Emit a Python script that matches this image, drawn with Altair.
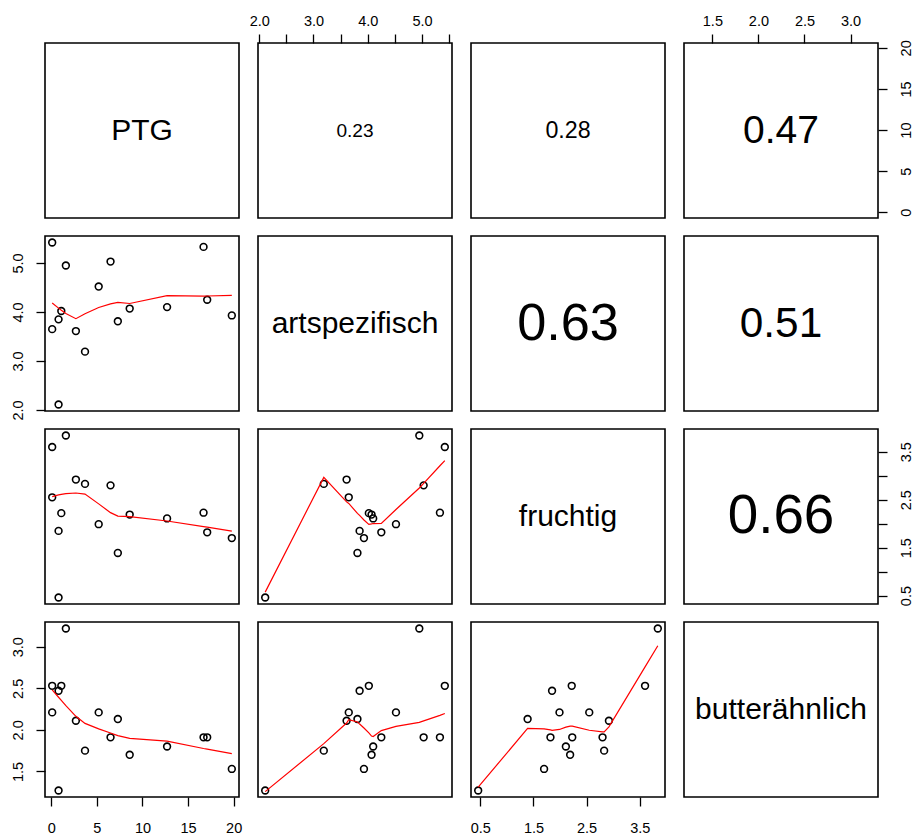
import altair as alt
import pandas as pd

# Sensory panel data: one row per sample
ptg = [0.1, 0.1, 0.8, 0.8, 1.1, 1.6, 2.7, 3.7, 5.2, 6.5, 7.3, 8.6, 12.7, 16.7, 17.1, 19.8]
art = [5.42, 3.65, 3.85, 2.11, 4.02, 4.95, 3.61, 3.19, 4.52, 5.03, 3.81, 4.07, 4.10, 5.33, 4.25, 3.93]
fru = [3.60, 2.55, 1.85, 0.46, 2.22, 3.84, 2.92, 2.83, 1.99, 2.80, 1.39, 2.19, 2.11, 2.23, 1.82, 1.70]
but = [2.53, 2.21, 2.47, 1.27, 2.53, 3.22, 2.11, 1.75, 2.21, 1.91, 2.13, 1.70, 1.80, 1.91, 1.91, 1.53]

keys = ["PTG", "art", "fru", "but"]
names = ["PTG", "artspezifisch", "fruchtig", "butterähnlich"]

# absolute correlations shown in the upper panels
cor_pairs = [(0, 1), (0, 2), (0, 3), (1, 2), (1, 3), (2, 3)]
cor_values = [0.23, 0.28, 0.47, 0.63, 0.51, 0.66]

# tick positions and which of them carry a label
tick_values = {
    "PTG": [0, 5, 10, 15, 20],
    "art": [2.0, 2.5, 3.0, 3.5, 4.0, 4.5, 5.0, 5.5],
    "fru": [0.5, 1.0, 1.5, 2.0, 2.5, 3.0, 3.5],
    "but": [1.5, 2.0, 2.5, 3.0],
}
tick_labels = {
    "PTG": [0, 5, 10, 15, 20],
    "art": [2, 3, 4, 5],
    "fru": [0.5, 1.5, 2.5, 3.5],
    "but": [1.5, 2, 2.5, 3],
}
tick_format = {"PTG": "d", "art": ".1f", "fru": ".1f", "but": ".1f"}

df = pd.DataFrame({"PTG": ptg, "art": art, "fru": fru, "but": but})

W, H = 194, 175
FONT = "Liberation Sans"
LABEL_SIZE = 14.5
COR_SCALE = 83  # text size grows with the correlation


def domain(key):
    v = df[key]
    lo, hi = float(v.min()), float(v.max())
    pad = 0.04 * (hi - lo)
    return [lo - pad, hi + pad]


def make_axis(key, orient):
    expr = "indexof(%s, datum.value) >= 0 ? format(datum.value, '%s') : ''" % (
        str(tick_labels[key]), tick_format[key])
    common = dict(orient=orient, values=tick_values[key], labelExpr=expr, title=None,
                  grid=False, domain=False, ticks=True, tickSize=9, tickWidth=1.3,
                  tickColor="black", labelColor="black", labelFont=FONT,
                  labelFontSize=LABEL_SIZE, labelOverlap=False, labelFlush=False)
    if orient == "top":
        return alt.Axis(labelPadding=9, labelBaseline="alphabetic", labelAlign="center", **common)
    if orient == "bottom":
        return alt.Axis(labelPadding=15, labelBaseline="top", labelAlign="center", **common)
    if orient == "left":
        return alt.Axis(labelPadding=14, labelAngle=270, labelAlign="center",
                        labelBaseline="alphabetic", **common)
    return alt.Axis(labelPadding=12, labelAngle=270, labelAlign="center",
                    labelBaseline="top", **common)


def x_axis(i, j):
    if i == 0 and j % 2 == 1:
        return make_axis(keys[j], "top")
    if i == 3 and j % 2 == 0:
        return make_axis(keys[j], "bottom")
    return None


def y_axis(i, j):
    if j == 0 and i % 2 == 1:
        return make_axis(keys[i], "left")
    if j == 3 and i % 2 == 0:
        return make_axis(keys[i], "right")
    return None


def panel(i, j):
    if i == j:
        return alt.Chart(alt.Data(values=[{"label": names[i]}])).mark_text(
            font=FONT, fontSize=30, color="black", align="center", baseline="middle"
        ).encode(x=alt.value(W / 2), y=alt.value(H / 2), text="label:N").properties(
            width=W, height=H)

    xk, yk = keys[j], keys[i]
    xenc = alt.X(f"{xk}:Q", scale=alt.Scale(domain=domain(xk), nice=False, zero=False),
                 axis=x_axis(i, j))
    yenc = alt.Y(f"{yk}:Q", scale=alt.Scale(domain=domain(yk), nice=False, zero=False),
                 axis=y_axis(i, j))
    base = alt.Chart(df)

    if i > j:
        pts = base.mark_point(shape="circle", filled=False, color="black", size=46,
                              strokeWidth=1.6, opacity=1).encode(x=xenc, y=yenc)
        smooth = base.transform_loess(xk, yk, bandwidth=2 / 3).mark_line(
            color="#ff0000", strokeWidth=1.2).encode(x=f"{xk}:Q", y=f"{yk}:Q")
        return alt.layer(pts, smooth).properties(width=W, height=H)

    r = cor_values[cor_pairs.index((i, j))]
    carrier = base.mark_point(opacity=0).encode(x=xenc, y=yenc)
    txt = alt.Chart(alt.Data(values=[{"r": f"{r:.2f}"}])).mark_text(
        font=FONT, fontSize=COR_SCALE * r, color="black", align="center", baseline="middle"
    ).encode(x=alt.value(W / 2), y=alt.value(H / 2), text="r:N")
    return alt.layer(carrier, txt).properties(width=W, height=H)


panels = [panel(i, j) for i in range(4) for j in range(4)]

chart = alt.concat(*panels, columns=4, spacing={"row": 18, "column": 19},
                   bounds="flush").properties(
    padding={"left": 9, "top": 12, "right": 4, "bottom": 4},
    background="white",
).configure(font=FONT).configure_view(stroke="black", strokeWidth=1.6)

chart.save("out.html", embed_options={"renderer": "svg", "actions": False})
